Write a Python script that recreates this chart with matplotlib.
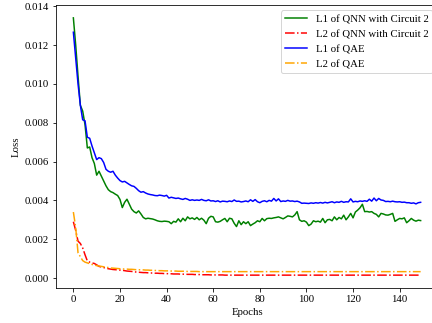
import matplotlib.pyplot as plt
import numpy as np

plt.rcParams['font.family'] = ['Liberation Serif', 'DejaVu Serif']
plt.rcParams['font.size'] = 10.8

# losses, in units of 1e-3
l1_qnn = [13.4, 12.0, 10.4, 8.9, 8.6, 7.9, 6.7, 6.75, 6.2, 5.9,
          5.3, 5.5, 5.25, 5.0, 4.75, 4.55, 4.45, 4.4, 4.32, 4.25,
          4.05, 3.63, 3.9, 4.06, 3.8, 3.55, 3.42, 3.35, 3.46, 3.3,
          3.12, 3.05, 3.08, 3.06, 3.04, 3.0, 2.95, 2.92, 2.91, 2.93,
          2.92, 2.9, 2.8, 2.92, 2.88, 3.05, 2.9, 3.08, 2.95, 3.15,
          3.05, 3.1, 3.02, 3.12, 3.0, 3.08, 2.98, 2.8, 3.08, 3.18,
          3.15, 2.9, 2.88, 2.92, 3.0, 3.07, 2.9, 3.08, 3.05, 2.82,
          2.65, 2.95, 2.75, 2.9, 2.8, 2.9, 2.7, 2.78, 2.85, 2.95,
          2.9, 3.07, 2.95, 3.06, 3.08, 3.07, 3.1, 3.12, 3.15, 3.1,
          3.05, 3.12, 3.2, 3.18, 3.15, 3.25, 3.42, 3.0, 2.92, 2.95,
          2.88, 2.7, 2.78, 2.95, 2.9, 2.93, 2.88, 3.07, 2.85, 3.0,
          3.02, 2.95, 3.15, 3.0, 3.12, 3.05, 3.24, 3.0, 3.15, 3.33,
          3.1, 3.4, 3.5, 3.62, 3.8, 3.42, 3.43, 3.4, 3.42, 3.33,
          3.28, 3.15, 3.33, 3.3, 3.25, 3.24, 3.28, 3.33, 2.92, 3.0,
          3.07, 3.05, 3.1, 2.85, 2.95, 3.07, 2.98, 2.93, 2.98, 2.96]

l2_qnn = [2.9, 2.45, 1.9, 1.78, 1.55, 1.2, 0.88, 0.82, 0.78, 0.75,
          0.68, 0.6, 0.57, 0.54, 0.51, 0.48, 0.46, 0.44, 0.43, 0.42,
          0.41, 0.4, 0.38, 0.36, 0.35, 0.34, 0.32, 0.31, 0.3, 0.29,
          0.28, 0.28, 0.27, 0.26, 0.26, 0.25, 0.25, 0.24, 0.24, 0.23,
          0.23, 0.22, 0.22, 0.21, 0.21, 0.21, 0.2, 0.2, 0.2, 0.19,
          0.19, 0.19, 0.18, 0.18, 0.18, 0.17, 0.17, 0.17, 0.17, 0.16,
          0.16, 0.16, 0.16, 0.16, 0.16, 0.15, 0.15, 0.15, 0.15, 0.15,
          0.15, 0.15, 0.15, 0.15, 0.15, 0.15, 0.15, 0.15, 0.15, 0.15,
          0.15, 0.15, 0.15, 0.15, 0.15, 0.15, 0.15, 0.15, 0.15, 0.15,
          0.15, 0.15, 0.15, 0.15, 0.15, 0.15, 0.15, 0.15, 0.15, 0.15,
          0.15, 0.15, 0.15, 0.15, 0.15, 0.15, 0.15, 0.15, 0.15, 0.15,
          0.15, 0.15, 0.15, 0.15, 0.15, 0.15, 0.15, 0.15, 0.15, 0.15,
          0.15, 0.15, 0.15, 0.15, 0.15, 0.15, 0.15, 0.15, 0.15, 0.15,
          0.15, 0.15, 0.15, 0.15, 0.15, 0.15, 0.15, 0.15, 0.15, 0.15,
          0.15, 0.15, 0.15, 0.15, 0.15, 0.15, 0.15, 0.15, 0.15, 0.15]

l1_qae = [12.66, 11.3, 10.0, 8.9, 8.15, 8.1, 7.25, 7.2, 6.8, 6.45,
          6.1, 6.2, 6.15, 5.95, 5.6, 5.5, 5.45, 5.5, 5.3, 5.15,
          5.02, 4.95, 4.98, 4.9, 4.82, 4.75, 4.72, 4.62, 4.5, 4.42,
          4.45, 4.38, 4.33, 4.3, 4.28, 4.25, 4.24, 4.27, 4.25, 4.22,
          4.26, 4.12, 4.16, 4.13, 4.1, 4.12, 4.08, 4.05, 4.1, 4.06,
          4.0, 4.03, 4.0, 4.02, 4.0, 4.05, 4.0, 3.98, 4.03, 3.97,
          3.98, 3.94, 3.98, 3.92, 3.96, 3.95, 3.93, 3.97, 3.94, 4.02,
          3.95, 3.96, 3.92, 3.94, 3.97, 3.93, 4.03, 3.95, 4.04, 3.93,
          3.88, 3.95, 3.98, 3.93, 4.0, 3.96, 4.1, 3.97, 4.08, 3.94,
          3.97, 3.95, 4.0, 3.96, 3.97, 3.94, 3.96, 3.92, 3.85, 3.86,
          3.85, 3.84, 3.87, 3.85, 3.88, 3.86, 3.89, 3.86, 3.9, 3.87,
          3.9, 3.93, 3.88, 3.92, 3.9, 3.95, 3.9, 3.93, 3.92, 4.08,
          3.92, 3.95, 3.93, 3.97, 3.95, 3.98, 3.95, 4.06, 3.96, 4.12,
          3.98, 4.1, 4.02, 4.0, 3.94, 3.95, 3.93, 3.96, 3.93, 3.92,
          3.93, 3.9, 3.91, 3.88, 3.88, 3.85, 3.87, 3.82, 3.88, 3.9]

l2_qae = [3.4, 2.6, 1.3, 1.1, 0.9, 0.82, 0.78, 0.74, 0.7, 0.67,
          0.64, 0.62, 0.6, 0.58, 0.56, 0.54, 0.52, 0.51, 0.5, 0.49,
          0.48, 0.47, 0.46, 0.46, 0.45, 0.45, 0.44, 0.43, 0.43, 0.42,
          0.42, 0.41, 0.41, 0.4, 0.4, 0.39, 0.39, 0.38, 0.38, 0.37,
          0.37, 0.37, 0.36, 0.36, 0.36, 0.35, 0.35, 0.35, 0.35, 0.34,
          0.34, 0.34, 0.34, 0.34, 0.33, 0.33, 0.33, 0.33, 0.33, 0.33,
          0.33, 0.33, 0.33, 0.33, 0.33, 0.33, 0.33, 0.33, 0.33, 0.33,
          0.33, 0.33, 0.33, 0.33, 0.33, 0.33, 0.33, 0.33, 0.33, 0.33,
          0.33, 0.33, 0.33, 0.33, 0.33, 0.33, 0.33, 0.33, 0.33, 0.33,
          0.33, 0.33, 0.33, 0.33, 0.33, 0.33, 0.33, 0.33, 0.33, 0.33,
          0.33, 0.33, 0.33, 0.33, 0.33, 0.33, 0.33, 0.33, 0.33, 0.33,
          0.33, 0.33, 0.33, 0.33, 0.33, 0.33, 0.33, 0.33, 0.33, 0.33,
          0.33, 0.33, 0.33, 0.33, 0.33, 0.33, 0.33, 0.33, 0.33, 0.33,
          0.33, 0.33, 0.33, 0.33, 0.33, 0.33, 0.33, 0.33, 0.33, 0.33,
          0.33, 0.33, 0.33, 0.33, 0.33, 0.33, 0.33, 0.33, 0.33, 0.33]

epochs = np.arange(len(l1_qnn))
scale = 1e-3

fig = plt.figure(figsize=(6, 323 / 72), dpi=72)
ax = fig.add_axes([56 / 432, 35 / 323, 382 / 432, 283 / 323])

ax.plot(epochs, np.array(l1_qnn) * scale, color='green', label='L1 of QNN with Circuit 2')
ax.plot(epochs, np.array(l2_qnn) * scale, color='red', linestyle='-.', label='L2 of QNN with Circuit 2')
ax.plot(epochs, np.array(l1_qae) * scale, color='blue', label='L1 of QAE')
ax.plot(epochs, np.array(l2_qae) * scale, color='orange', linestyle='-.', label='L2 of QAE')

ax.set_xlabel('Epochs')
ax.set_ylabel('Loss')
ax.set_xticks(np.arange(0, 141, 20))
ax.legend(loc='upper right')

fig.savefig('out.png', dpi=72)
